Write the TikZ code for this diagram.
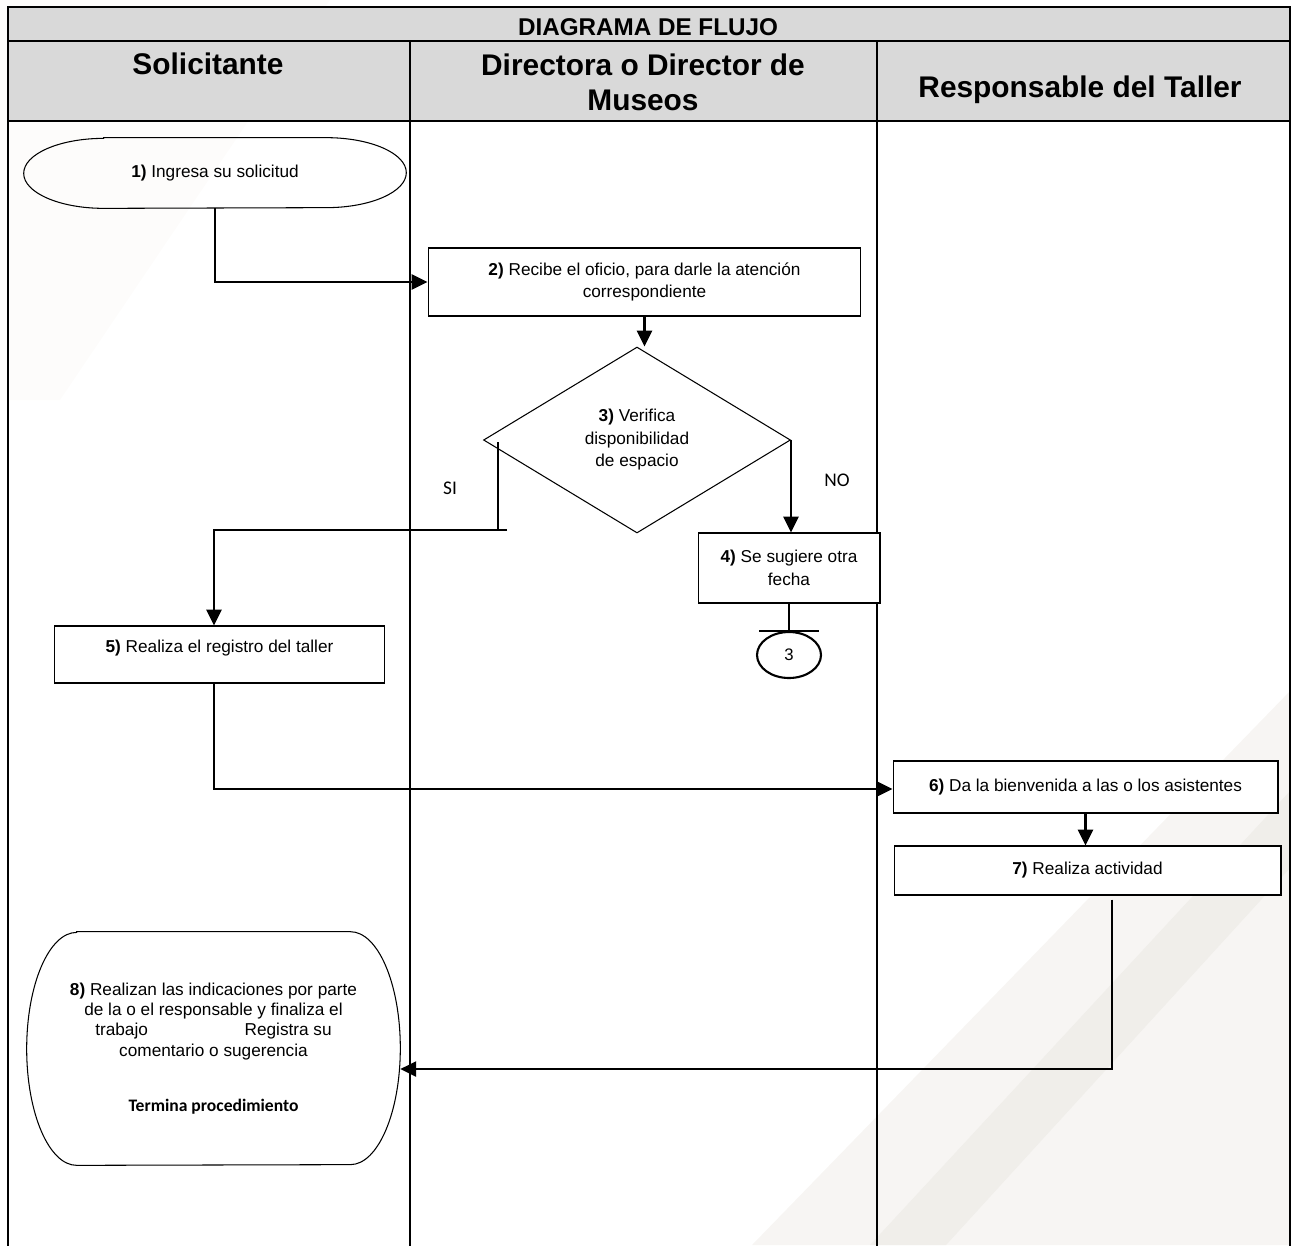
\documentclass[tikz,border=0pt]{standalone}
\usepackage{fontspec}
\setmainfont{Liberation Sans}
\newfontfamily\carlito{Carlito}
\usetikzlibrary{arrows.meta,shapes.geometric}
\colorlet{headfill}{black!15}
\definecolor{wmfaint}{RGB}{253,252,251}
\definecolor{wmlight}{RGB}{247,245,243}
\definecolor{wmdark}{RGB}{240,238,234}
\tikzset{
  frame/.style={line width=1.6pt},
  lane/.style={line width=1.3pt},
  headtext/.style={font=\bfseries\fontsize{17}{19.8}\selectfont, align=center, inner sep=0pt},
  stepbox/.style={draw, line width=0.6pt, fill=white, inner sep=2pt, align=center, font=\fontsize{9.8}{13}\selectfont},
  termbox/.style={inner sep=2pt, align=center, font=\fontsize{9.8}{11.6}\selectfont},
  outline/.style={line width=0.6pt},
  decision/.style={diamond, draw, line width=0.6pt, fill=white, inner sep=0pt, align=center, font=\fontsize{9.8}{12.8}\selectfont},
  connector/.style={ellipse, draw, line width=1.2pt, fill=white, inner sep=0pt, font=\fontsize{9.5}{11}\selectfont},
  flow/.style={line width=1.4pt, -{Triangle[length=9pt,width=8.5pt]}},
  link/.style={line width=1.4pt},
  answer/.style={font=\carlito\fontsize{11}{13}\selectfont},
}

\begin{document}
\begin{tikzpicture}[x=0.02cm,y=-0.02cm]
\useasboundingbox (0,0) rectangle (1291,1245);
\clip (0,0) rectangle (1291,1245);
% watermark
\fill[wmfaint] (0,0) -- (330,0) -- (60,400) -- (0,400) -- cycle;
\fill[wmlight] (1291,690) -- (1291,1245) -- (752,1245) -- cycle;
\fill[wmdark] (1291,790) -- (1291,867) -- (946,1245) -- (870,1245) -- cycle;
% table
\fill[headfill] (8,7) rectangle (1290,121);
\draw[lane] (410,41) -- (410,1260);
\draw[lane] (877,41) -- (877,1260);
\draw[frame] (8,1260) -- (8,7) -- (1290,7) -- (1290,1260);
\draw[frame] (8,41) -- (1290,41);
\draw[frame] (8,121) -- (1290,121);
\node[font=\bfseries\fontsize{13.8}{15}\selectfont, anchor=base, inner sep=0pt] (htitle) at (648,35) {DIAGRAMA DE FLUJO};
\node[headtext, anchor=base] (hsol) at (208,74) {Solicitante};
\node[headtext] (hdir) at (643,82) {Directora o Director de\\Museos};
\node[headtext, anchor=base] (hres) at (1080,97) {Responsable del Taller};

% steps
\node[termbox, minimum width=7.64cm, minimum height=1.4cm] (n1) at (215,173) {\textbf{1)} Ingresa su solicitud};
\draw[outline] ([xshift=1.6cm]n1.north west) -- ([xshift=-1.6cm]n1.north east)
  arc[start angle=90, end angle=-90, x radius=1.6cm, y radius=0.7cm]
  -- ([xshift=1.6cm]n1.south west)
  arc[start angle=270, end angle=90, x radius=1.6cm, y radius=0.7cm] -- cycle;
\node[stepbox, minimum width=8.66cm, minimum height=1.36cm] (n2) at (644.5,282) {\textbf{2)} Recibe el oficio, para darle la atención\\correspondiente};
\node[decision, minimum width=6.14cm, minimum height=3.72cm] (d3) at (637,440) {\textbf{3)} Verifica\\disponibilidad\\de espacio};
\node[stepbox, minimum width=3.64cm, minimum height=1.4cm] (n4) at (789,568) {\textbf{4)} Se sugiere otra\\fecha};
\node[connector, minimum width=1.28cm, minimum height=0.92cm] (c3) at (789,655) {3};
\node[stepbox, minimum width=6.62cm, minimum height=1.14cm, text depth=9pt] (n5) at (219.5,654.5) {\textbf{5)} Realiza el registro del taller};
\node[stepbox, minimum width=7.7cm, minimum height=1.04cm] (n6) at (1085.5,787) {\textbf{6)} Da la bienvenida a las o los asistentes};
\node[stepbox, minimum width=7.74cm, minimum height=0.98cm] (n7) at (1087.5,870.5) {\textbf{7)} Realiza actividad};
\node[termbox, minimum width=7.46cm, minimum height=4.66cm] (n8) at (213.5,1048.5) {\textbf{8)} Realizan las indicaciones por parte\\de la o el responsable y finaliza el\\trabajo\hspace{55pt}Registra su\\comentario o sugerencia\\[20pt]{\carlito\bfseries\fontsize{10}{12}\selectfont Termina procedimiento}};
\draw[outline] ([xshift=1cm]n8.north west) -- ([xshift=-1cm]n8.north east)
  arc[start angle=90, end angle=-90, x radius=1cm, y radius=2.33cm]
  -- ([xshift=1cm]n8.south west)
  arc[start angle=270, end angle=90, x radius=1cm, y radius=2.33cm] -- cycle;

\node[answer] (si) at (450,488) {SI};
\node[answer] (no) at (837,480) {NO};

% connectors
\coordinate (siA) at (498,442);
\coordinate (siB) at (498,530);
\coordinate (k5) at (214,789);
\coordinate (k7) at (1112,1069);
\draw[flow] (n1.south) |- (n2.west);
\draw[flow] (n2.south) -- (n2.south |- d3.north);
\draw[link] (siA) -- (siB);
\draw[flow] ([xshift=0.18cm]siB) -- (siB -| k5) -- (k5 |- n5.north);
\draw[flow] (d3.east) -- (d3.east |- n4.north);
\draw[link] (n4.south) -- (c3.north);
\draw[link] ([xshift=-0.6cm]c3.north) -- ([xshift=0.6cm]c3.north);
\draw[flow] (k5 |- n5.south) -- (k5) -- (k5 -| n6.west);
\draw[flow] (n6.south) -- (n6.south |- n7.north);
\draw[flow] ([yshift=-0.08cm]n7.south -| k7) -- (k7) -- (k7 -| n8.east);
\end{tikzpicture}
\end{document}
